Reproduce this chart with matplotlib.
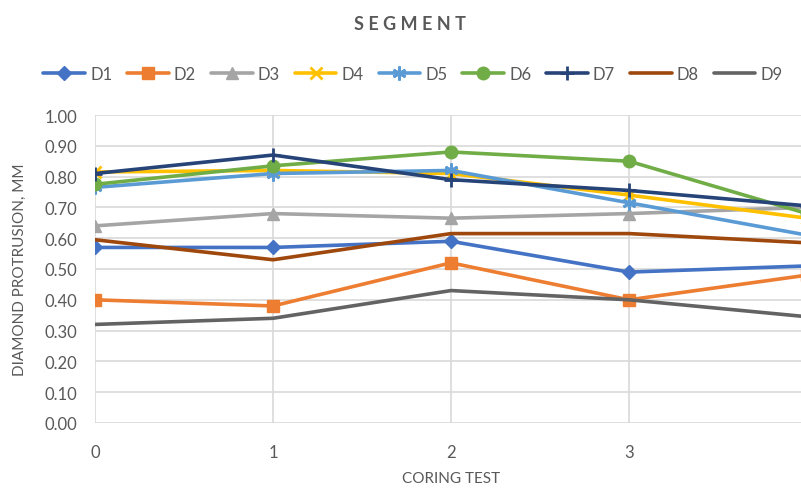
import matplotlib
matplotlib.use("Agg")
import matplotlib.pyplot as plt

# coring test index
tests = [0, 1, 2, 3, 4]

# diamond protrusion (mm) per segment series
d1 = [0.57, 0.57, 0.59, 0.49, 0.51]
d2 = [0.40, 0.38, 0.52, 0.40, 0.48]
d3 = [0.64, 0.68, 0.665, 0.68, 0.70]
d4 = [0.815, 0.82, 0.81, 0.74, 0.665]
d5 = [0.765, 0.81, 0.82, 0.715, 0.61]
d6 = [0.775, 0.835, 0.88, 0.85, 0.68]
d7 = [0.81, 0.87, 0.79, 0.755, 0.705]
d8 = [0.595, 0.53, 0.615, 0.615, 0.585]
d9 = [0.32, 0.34, 0.43, 0.40, 0.345]

names = ["D1", "D2", "D3", "D4", "D5", "D6", "D7", "D8", "D9"]
colors = ["#4472C4", "#ED7D31", "#A5A5A5", "#FFC000", "#5B9BD5",
          "#70AD47", "#264478", "#9E480E", "#636363"]
markers = ["D", "s", "^", "x", (6, 2, 0), "o", "+", None, None]
msizes = [7, 9, 8, 8, 10, 9, 10, 0, 0]

plt.rcParams['font.family'] = ['Lato', 'DejaVu Sans']
text_col = "#595959"
grid_col = "#D9D9D9"

fig = plt.figure(figsize=(8.01, 4.89), dpi=100)
# plot area runs slightly past the right edge, as in the cropped source
ax = fig.add_axes([95 / 801, 65 / 489, 712 / 801, 308 / 489])

series = [d1, d2, d3, d4, d5, d6, d7, d8, d9]
handles = []
for vals, name, c, m, ms in zip(series, names, colors, markers, msizes):
    h, = ax.plot(tests, vals, color=c, lw=2.6, marker=m, markersize=ms,
                 markeredgewidth=2 if m in ("x", "+", (6, 2, 0)) else 1,
                 markerfacecolor=c, markeredgecolor=c, label=name,
                 solid_capstyle='round', clip_on=True)
    handles.append(h)

ax.set_xlim(0, 4)
ax.set_ylim(0, 1.0)
ax.set_xticks(tests)
ax.set_yticks([i / 10 for i in range(11)])
ax.set_yticklabels([f"{i / 10:.2f}" for i in range(11)])
ax.grid(True, color=grid_col, lw=1.2)
ax.set_axisbelow(True)
for s in ax.spines.values():
    s.set_visible(False)
ax.tick_params(length=0, labelsize=12, colors=text_col)
ax.tick_params(axis='y', pad=13)
ax.tick_params(axis='x', pad=15)

ax.set_xlabel("CORING TEST", fontsize=11, color=text_col, labelpad=8)
fig.text(20 / 801, 1 - 270 / 489, "DIAMOND PROTRUSION, MM", rotation=90,
         fontsize=11, color=text_col, ha='center', va='center')

fig.text(410 / 801, 1 - 25 / 489, "S E G M E N T", fontsize=13,
         fontweight='bold', color=text_col, ha='center', va='center')

fig.legend(handles=handles, loc='center', ncol=9,
           bbox_to_anchor=(413 / 801, 1 - 75 / 489), frameon=False,
           fontsize=12, handlelength=2.5, handletextpad=0.3,
           columnspacing=0.9, labelcolor=text_col)

fig.savefig("out.png", dpi=100)
